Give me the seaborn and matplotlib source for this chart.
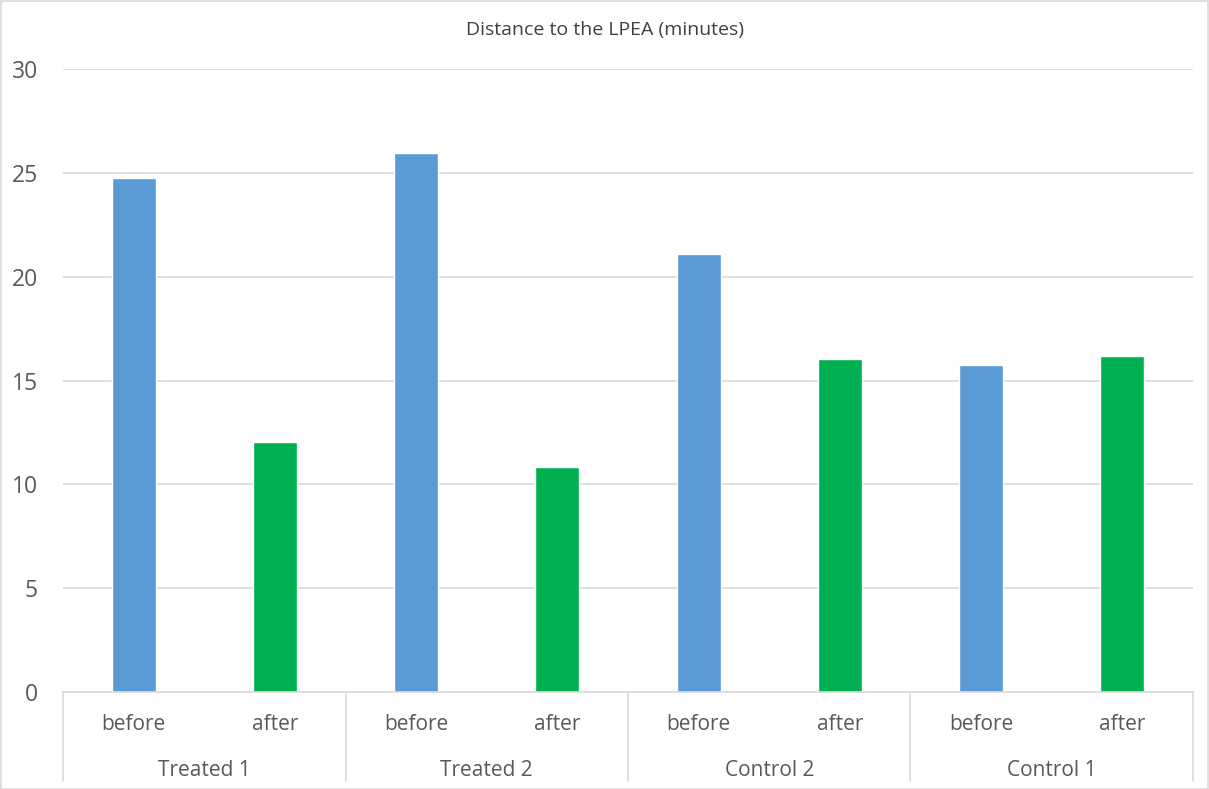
import matplotlib
matplotlib.use("Agg")
import matplotlib.pyplot as plt
import matplotlib.transforms as mtransforms
import seaborn as sns
import pandas as pd
from matplotlib.patches import Rectangle
from matplotlib.lines import Line2D

groups = ["Treated 1", "Treated 2", "Control 2", "Control 1"]
periods = ["before", "after"]
before_vals = [24.75, 25.95, 21.1, 15.75]
after_vals = [12.05, 10.85, 16.05, 16.2]
title = "Distance to the LPEA (minutes)"

rows = []
for g, b, a in zip(groups, before_vals, after_vals):
    rows.append({"slot": f"{g}|before", "period": "before", "value": b})
    rows.append({"slot": f"{g}|after", "period": "after", "value": a})
df = pd.DataFrame(rows)

sns.set_theme(style="white")
plt.rcParams['font.family'] = ['Open Sans', 'DejaVu Sans']

W, H = 1209, 789
fig = plt.figure(figsize=(W / 100, H / 100), dpi=100)
ax = fig.add_axes([63 / W, 1 - 692 / H, (1193 - 63) / W, (692 - 69) / H])

sns.barplot(data=df, x="slot", y="value", hue="period",
            palette={"before": "#5B9BD5", "after": "#00B050"},
            dodge=False, width=0.31, ax=ax, legend=False, saturation=1)

ax.set_ylim(0, 30)
ax.set_xlim(-0.5, len(df) - 0.5)
ax.set_yticks(range(0, 31, 5))
ax.yaxis.grid(True, color="#D9D9D9", linewidth=1.2)
ax.set_axisbelow(True)
ax.tick_params(axis="y", length=0, labelsize=16.5, labelcolor="#595959", pad=18)
ax.set_xticks([])
ax.set_xlabel("")
ax.set_ylabel("")
for s in ["top", "right", "left"]:
    ax.spines[s].set_visible(False)
ax.spines["bottom"].set_color("#D9D9D9")
ax.spines["bottom"].set_linewidth(1.2)

trans = ax.get_xaxis_transform()
off1 = trans + mtransforms.ScaledTranslation(0, -32 / 100, fig.dpi_scale_trans)
off2 = trans + mtransforms.ScaledTranslation(0, -78 / 100, fig.dpi_scale_trans)
for i, slot in enumerate(df["slot"]):
    g, p = slot.split("|")
    ax.text(i, 0, p, transform=off1, ha="center", va="center",
            fontsize=15, color="#595959")
for gi, g in enumerate(groups):
    ax.text(gi * 2 + 0.5, 0, g, transform=off2, ha="center", va="center",
            fontsize=15, color="#595959")

for k in range(len(groups) + 1):
    xpix = 63 + k * (1193 - 63) / len(groups)
    fig.add_artist(Line2D([xpix / W, xpix / W], [1 - 692 / H, 1 - 781 / H],
                          color="#D9D9D9", linewidth=1.2, transform=fig.transFigure))

fig.text(605 / W, 1 - 30 / H, title, ha="center", va="center",
         fontsize=14, color="#404040")

fig.add_artist(Rectangle((0.5 / W, 0.5 / H), 1 - 1.5 / W, 1 - 1.5 / H,
                         transform=fig.transFigure, fill=False,
                         edgecolor="#D9D9D9", linewidth=1.2))

fig.savefig("out.png", dpi=100, facecolor="white")
